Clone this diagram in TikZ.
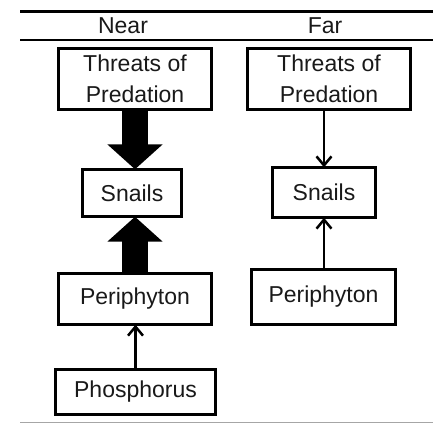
\documentclass[tikz,border=0pt]{standalone}
\usepackage{fontspec}
\setmainfont{Liberation Sans}
\usetikzlibrary{arrows.meta,calc}
\begin{document}
\begin{tikzpicture}[x=1pt,y=-1pt,
  box/.style={align=center, inner sep=0pt,
    font=\fontsize{23}{31}\selectfont, text=black!90},
  border/.style={draw=black, line width=3pt, line join=miter},
  hdr/.style={inner sep=0pt, font=\fontsize{23}{27}\selectfont, text=black!90},
  fatarrow/.style={line width=26pt, -{Triangle[width=54pt,length=25pt]}},
  thinarrow/.style={line width=2.5pt, -{Straight Barb[length=9pt,width=15pt,line width=2.5pt]}}]
\useasboundingbox (0,0) rectangle (433,424);
% rules
\draw[line width=3pt] (20,11) -- (433,11);
\draw[line width=2.5pt] (20,40) -- (433,40);
\draw[line width=1pt, black!35] (20,422) -- (433,422);
\node[hdr] (near) at (123,26) {Near};
\node[hdr] (far) at (325,26) {Far};
% near column
\node[box, minimum width=153pt, minimum height=61pt] (tl) at (135,79) {Threats of\\Predation};
\node[box, minimum width=99pt, minimum height=47pt] (sl) at (132,193) {Snails};
\node[box, minimum width=153pt, minimum height=51pt] (pl) at (135,299) {Periphyton};
\node[box, minimum width=160pt, minimum height=45pt] (ph) at (135.5,392) {Phosphorus};
% far column
\node[box, minimum width=163pt, minimum height=61pt] (tr) at (329,79) {Threats of\\Predation};
\node[box, minimum width=102pt, minimum height=50pt] (sr) at (324,192.5) {Snails};
\node[box, minimum width=144pt, minimum height=55pt] (pr) at (323.5,297) {Periphyton};
% borders
\foreach \n in {tl,sl,pl,ph,tr,sr,pr}
  \draw[border] (\n.south west) rectangle (\n.north east);
% arrows
\draw[fatarrow] (tl.south) -- (tl.south |- sl.north);
\draw[fatarrow] (pl.north) -- (pl.north |- sl.south);
\draw[thinarrow] (ph.north) -- (ph.north |- pl.south);
\draw[thinarrow] (sr.north |- tr.south) -- (sr.north);
\draw[thinarrow] (sr.south |- pr.north) -- (sr.south);
\end{tikzpicture}
\end{document}
